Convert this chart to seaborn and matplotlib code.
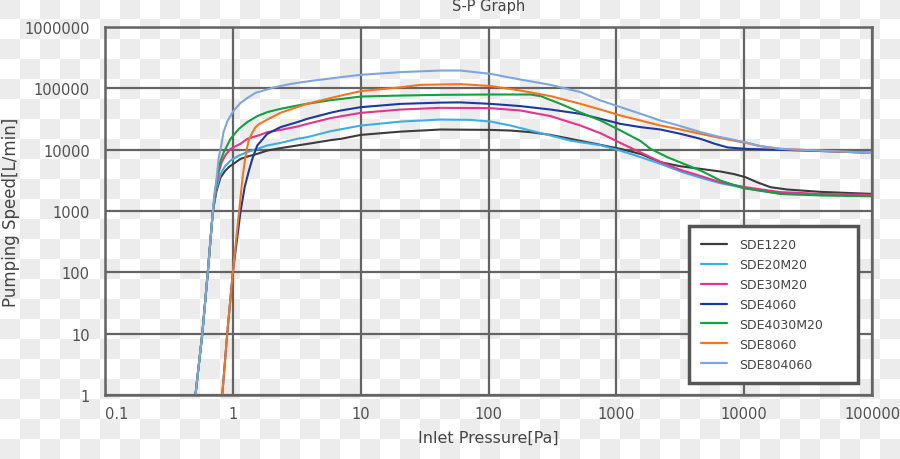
import numpy as np
import pandas as pd
import matplotlib
matplotlib.use("Agg")
import matplotlib.pyplot as plt
import seaborn as sns

# ---------------- data ----------------
series_names = ["SDE1220", "SDE20M20", "SDE30M20", "SDE4060",
                "SDE4030M20", "SDE8060", "SDE804060"]
series_colors = ["#3c3c3c", "#3eaee2", "#e5358a", "#1c3a9c",
                 "#12a040", "#f27522", "#7ea6dc"]

x_sde1220 = [0.51, 0.577, 0.637, 0.698, 0.745, 0.80, 0.87, 0.93, 1.049, 1.149, 1.296, 1.552, 1.858,
             2.36, 3.19, 3.82, 5.81, 6.98, 10, 20.6, 42.2, 104, 149, 213, 306, 439, 629, 1080,
             1549, 2219, 3184, 4565, 6546, 8320, 10270, 12680, 16110, 21770, 39660, 100000]
y_sde1220 = [1, 10, 100, 1000, 2100, 3500, 4500, 5200, 6200, 7080, 7700, 8540, 9670,
             10600, 11700, 12400, 14300, 15000, 17400, 19700, 21300, 21000, 20500, 19300, 17400, 15000, 12900, 10300,
             8500, 6250, 5360, 4860, 4400, 4000, 3550, 2930, 2440, 2240, 2050, 1900]

x_sde20m20 = [0.51, 0.577, 0.637, 0.698, 0.74, 0.80, 0.87, 0.959, 1.114, 1.296, 1.552, 1.858, 2.36,
              3.19, 3.82, 5.81, 10, 20.6, 42.2, 72.4, 104, 149, 213, 306, 439, 753, 1080, 1549,
              2219, 3184, 4565, 6546, 10270, 19280, 39660, 100000]
y_sde20m20 = [1, 10, 100, 1000, 2200, 4000, 5400, 6640, 8010, 9110, 10300, 11700, 12900,
              15000, 16000, 20000, 24700, 28700, 31000, 30600, 28700, 24700, 20500, 17000, 14000, 11800, 9600, 7550,
              5860, 4400, 3490, 2830, 2350, 1900, 1830, 1790]

x_sde30m20 = [0.51, 0.577, 0.637, 0.698, 0.735, 0.773, 0.82, 0.877, 0.959, 1.149, 1.296, 1.647, 1.858,
              2.36, 3.19, 3.82, 5.81, 10, 20.6, 42.2, 104, 178, 306, 525, 753, 1080, 1549,
              2219, 3184, 4565, 6546, 10270, 19280, 39660, 100000]
y_sde30m20 = [1, 10, 100, 1000, 2200, 4200, 6300, 8200, 10300, 12500, 15000, 17500, 19300,
              21000, 23800, 26300, 32700, 39800, 45100, 48100, 47500, 43500, 35200, 24700, 18500, 12800, 9000,
              6300, 4670, 3720, 2930, 2440, 2030, 1900, 1830]

x_sde4060 = [0.826, 0.904, 1.0, 1.15, 1.24, 1.334, 1.419, 1.552, 1.858, 2.36, 3.19, 3.82,
             5.81, 6.98, 10, 20.6, 42.2, 60.5, 104, 178, 306, 525, 753, 1080, 1549,
             2219, 3184, 4565, 5800, 7386, 10270, 19280, 39660, 100000]
y_sde4060 = [1, 10, 100, 1000, 2500, 4500, 7000, 11700, 18100, 23300, 28100, 31800,
             40000, 43500, 49300, 55800, 58500, 59000, 55800, 51300, 45100, 38400, 31800, 26300, 23300,
             21300, 18100, 15000, 12600, 10900, 10300, 9930, 9500, 8870]

x_sde4030m20 = [0.51, 0.577, 0.637, 0.698, 0.73, 0.759, 0.80, 0.850, 0.959, 1.114, 1.296, 1.552, 1.858, 2.36,
                3.19, 3.82, 5.81, 6.98, 10, 20.6, 42.2, 104, 213, 256, 366, 525, 753, 1080,
                1549, 1853, 2504, 4565, 6546, 9960, 19280, 39660, 100000]
y_sde4030m20 = [1, 10, 100, 1000, 2200, 4000, 6500, 9100, 15000, 21800, 28100, 35200, 40900, 46300,
                52400, 56000, 64000, 67000, 73500, 76300, 78300, 79300, 79300, 74600, 55800, 40300, 29800, 20500,
                13800, 10300, 7550, 4560, 3130, 2350, 1900, 1790, 1740]

x_sde8060 = [0.826, 0.904, 1.0, 1.12, 1.20, 1.27, 1.33, 1.42, 1.505, 1.6, 1.86, 2.36,
             3.82, 6.98, 10, 20.6, 29.4, 60.5, 104, 178, 306, 525, 753, 1080, 1549,
             2219, 3184, 4565, 6546, 10270, 13450, 19280, 39660, 100000]
y_sde8060 = [1, 10, 100, 1000, 4000, 9000, 14000, 19000, 23300, 26000, 31000, 40000,
             56000, 76000, 90000, 104000, 114000, 117000, 109000, 92000, 74600, 55800, 45000, 36000, 29800,
             24700, 21300, 18100, 15400, 12900, 11400, 10300, 9600, 8870]

x_sde804060 = [0.51, 0.577, 0.637, 0.698, 0.72, 0.746, 0.773, 0.816, 0.846, 0.909, 1.013, 1.149, 1.303,
               1.505, 1.738, 2.08, 2.83, 4.06, 6.98, 10, 20.6, 42.2, 60.5, 104, 178, 306, 525,
               753, 1080, 1549, 2219, 3184, 4565, 6546, 10270, 13450, 19280, 39660, 100000]
y_sde804060 = [1, 10, 100, 1000, 2000, 3340, 7080, 12400, 19500, 29500, 43000, 58000, 70000,
               84500, 92000, 103000, 118000, 132000, 152000, 166000, 184000, 195000, 195000, 172000, 139000, 114000, 86700,
               63300, 49300, 38400, 29800, 24200, 19300, 16000, 13200, 11400, 10300, 9670, 8870]

x_ticks = [0.1, 1, 10, 100, 1000, 10000, 100000]
x_tick_labels = ["0.1", "1", "10", "100", "1000", "10000", "100000"]
y_ticks = [1, 10, 100, 1000, 10000, 100000, 1000000]
y_tick_labels = ["1", "10", "100", "1000", "10000", "100000", "1000000"]

series_x = [x_sde1220, x_sde20m20, x_sde30m20, x_sde4060, x_sde4030m20, x_sde8060, x_sde804060]
series_y = [y_sde1220, y_sde20m20, y_sde30m20, y_sde4060, y_sde4030m20, y_sde8060, y_sde804060]

frames = []
for name, xs, ys in zip(series_names, series_x, series_y):
    frames.append(pd.DataFrame({"pressure": xs, "speed": ys, "model": name}))
df = pd.concat(frames, ignore_index=True)

# ---------------- style ----------------
sns.set_theme(style="white")
plt.rcParams['font.family'] = ['DejaVu Sans']

W, H = 900, 460
fig = plt.figure(figsize=(W / 100, H / 100), dpi=100)

# transparency checkerboard background of the reference picture
yy, xx = np.mgrid[0:H, 0:W]
cell = ((xx // 20 + yy // 20) % 2 == 0)
bg = np.where(cell, 236, 255).astype(np.uint8)
fig.figimage(np.dstack([bg, bg, bg]), xo=0, yo=0, origin='upper', zorder=-5)

ax = fig.add_axes([105 / W, 64 / H, 767 / W, 368 / H])
ax.set_facecolor('none')

sns.lineplot(data=df, x="pressure", y="speed", hue="model", hue_order=series_names,
             palette=series_colors, estimator=None, sort=False, linewidth=1.5, ax=ax)
for ln in ax.get_lines():
    ln.set_solid_joinstyle('round')

ax.set_xscale('log')
ax.set_yscale('log')
ax.set_xlim(0.1, 100000)
ax.set_ylim(1, 1000000)

grid_col = '#646464'
ax.set_xticks(x_ticks, labels=x_tick_labels)
ax.set_yticks(y_ticks, labels=y_tick_labels)
ax.minorticks_off()
ax.tick_params(axis='both', length=0, labelsize=10.5, labelcolor='#505050')
ax.tick_params(axis='x', pad=8)
ax.tick_params(axis='y', pad=11)
ax.get_xticklabels()[0].set_horizontalalignment('left')

ax.grid(True, which='major', color=grid_col, linewidth=1.6)
ax.set_axisbelow(True)
for sp in ax.spines.values():
    sp.set_visible(True)
    sp.set_color(grid_col)
    sp.set_linewidth(1.8)

ax.set_title("S-P Graph", fontsize=10.5, color='#444444', pad=12)
ax.set_xlabel("Inlet Pressure[Pa]", fontsize=11.5, color='#444444', labelpad=6)
ax.set_ylabel("Pumping Speed[L/min]", fontsize=12, color='#444444', labelpad=3)

handles, labels = ax.get_legend_handles_labels()
leg = ax.legend(handles, labels, loc='lower left',
                bbox_to_anchor=(0.761, 0.0326, 0.221, 0.43), mode='expand',
                frameon=True, fancybox=False, framealpha=1, facecolor='white',
                edgecolor='#555555', fontsize=9, handlelength=2.1,
                handletextpad=0.9, labelspacing=0.55, borderpad=1.0,
                borderaxespad=0)
leg.get_frame().set_linewidth(2.5)
for t in leg.get_texts():
    t.set_color('#444444')
for lh in leg.get_lines():
    lh.set_linewidth(1.6)

fig.savefig("out.png", dpi=100)
